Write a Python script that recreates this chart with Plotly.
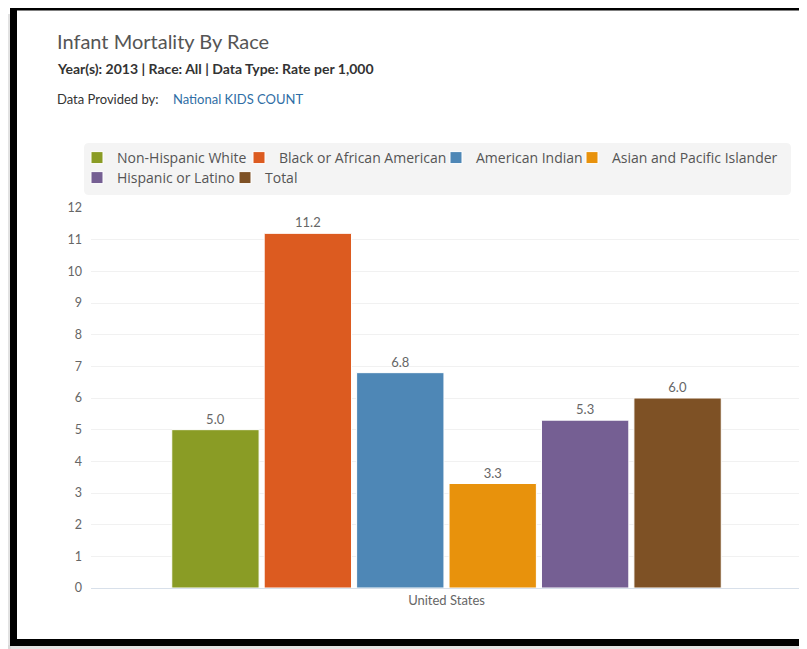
import plotly.graph_objects as go

# ---- data ----
categories = ["United States"]
series_names = ["Non-Hispanic White", "Black or African American", "American Indian",
                "Asian and Pacific Islander", "Hispanic or Latino", "Total"]
series_values = [5.0, 11.2, 6.8, 3.3, 5.3, 6.0]
series_colors = ["#8a9c25", "#dc5b20", "#4e87b6", "#e8920c", "#755f93", "#7e5125"]
y_ticks = list(range(0, 13))

# page body has an 8px margin; positions below are in screen pixels
OFF = 8
W, H = 799, 641
ML, MR, MT, MB = 83, 5, 200, 61
PW, PH = W - ML - MR, H - MT - MB


def px(x):
    return (x - OFF - ML) / PW


def py(y):
    return (H - MB - (y - OFF)) / PH


FONT = "Lato, 'Open Sans', sans-serif"

fig = go.Figure()

# legend text start positions (screen px)
legend_text_pos = [(116, 158), (278, 158), (475, 158), (611, 158), (116, 178), (264, 178)]
legend_ids = ["legend", "legend2", "legend3", "legend4", "legend5", "legend6"]

for name, val, col, lid in zip(series_names, series_values, series_colors, legend_ids):
    fig.add_trace(go.Bar(
        x=categories, y=[val], name=name,
        marker=dict(color=col, line=dict(color="white", width=1)),
        texttemplate="%{y:.1f}", textposition="outside",
        textfont=dict(size=13, color="#666666", family=FONT),
        cliponaxis=False, legend=lid, hoverinfo="name+y",
    ))

layout_legends = {}
for (tx, cy), lid in zip(legend_text_pos, legend_ids):
    layout_legends[lid] = dict(
        x=px(tx - 39), y=py(cy), xanchor="left", yanchor="middle",
        orientation="h", bgcolor="rgba(0,0,0,0)", borderwidth=0,
        font=dict(size=14, color="#555555", family="'Open Sans', sans-serif"),
    )

shapes = []
# legend background box (rounded)
x0, x1, y0, y1, r = px(84), px(791), py(143), py(195), 5
rx, ry = r / PW, r / PH
path = (f"M{x0+rx},{y0} L{x1-rx},{y0} Q{x1},{y0} {x1},{y0-ry} L{x1},{y1+ry} "
        f"Q{x1},{y1} {x1-rx},{y1} L{x0+rx},{y1} Q{x0},{y1} {x0},{y1+ry} "
        f"L{x0},{y0-ry} Q{x0},{y0} {x0+rx},{y0} Z")
shapes.append(dict(type="path", xref="paper", yref="paper", path=path,
                   fillcolor="#f4f4f4", line=dict(width=0), layer="below"))
# shadow of frame
shapes.append(dict(type="rect", xref="paper", yref="paper",
                   x0=px(8), x1=px(11), y0=py(14), y1=py(649),
                   fillcolor="#d6d6d6", line=dict(width=0), layer="above", opacity=0.7))
shapes.append(dict(type="rect", xref="paper", yref="paper",
                   x0=px(8), x1=px(830), y0=py(645), y1=py(649),
                   fillcolor="#d6d6d6", line=dict(width=0), layer="above", opacity=0.7))
# black frame
shapes.append(dict(type="rect", xref="paper", yref="paper",
                   x0=px(13.5), x1=px(840), y0=py(7), y1=py(642.5),
                   line=dict(color="black", width=7), fillcolor="rgba(0,0,0,0)",
                   layer="above"))

annotations = [
    dict(text="Infant Mortality By Race", x=px(55), y=py(41), xref="paper", yref="paper",
         xanchor="left", yanchor="middle", showarrow=False,
         font=dict(size=20, color="#555555", family=FONT)),
    dict(text="<b>Year(s): 2013 | Race: All | Data Type: Rate per 1,000</b>",
         x=px(55), y=py(68), xref="paper", yref="paper",
         xanchor="left", yanchor="middle", showarrow=False,
         font=dict(size=14, color="#333333", family=FONT)),
    dict(text="Data Provided by:", x=px(55), y=py(99), xref="paper", yref="paper",
         xanchor="left", yanchor="middle", showarrow=False,
         font=dict(size=13, color="#333333", family=FONT)),
    dict(text="National KIDS COUNT", x=px(171), y=py(99), xref="paper", yref="paper",
         xanchor="left", yanchor="middle", showarrow=False,
         font=dict(size=13, color="#2f6ea5", family=FONT)),
]

fig.update_layout(
    width=W, height=H,
    margin=dict(l=ML, r=MR, t=MT, b=MB, pad=0),
    paper_bgcolor="white", plot_bgcolor="white",
    barmode="group", bargap=0.22, bargroupgap=0.055,
    showlegend=True,
    shapes=shapes, annotations=annotations,
    font=dict(family=FONT, color="#666666"),
    xaxis=dict(showgrid=False, showline=True, linecolor="#d8e0ea", linewidth=1,
               ticks="", tickfont=dict(size=13, color="#666666", family=FONT),
               fixedrange=True),
    yaxis=dict(range=[0, 12], tickvals=y_ticks, showgrid=True, gridcolor="#f1f1f1",
               zeroline=False, showline=False, ticks="", ticklabelstandoff=8,
               tickfont=dict(size=12.5, color="#666666", family=FONT), fixedrange=True),
    **layout_legends,
)

fig.write_html("out.html")
